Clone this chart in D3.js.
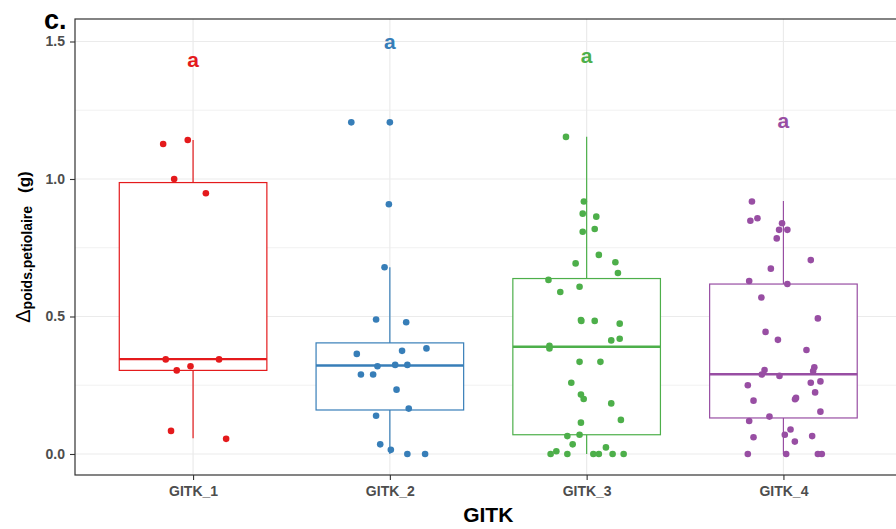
<!DOCTYPE html>
<html>
<head>
<meta charset="utf-8">
<script src="https://cdn.jsdelivr.net/npm/d3@7"></script>
<style>
  html, body { margin: 0; padding: 0; background: #fff; }
  svg { display: block; font-family: "Liberation Sans", Arial, sans-serif; }
</style>
</head>
<body>
<svg id="chart" width="896" height="529"></svg>
<script>
// ---------- data ----------
const categories = ["GITK_1", "GITK_2", "GITK_3", "GITK_4"];
const colors = ["#E41A1C", "#377EB8", "#4DAF4A", "#984EA3"];
const yTicks = [0.0, 0.5, 1.0, 1.5];
const yMinorTicks = [0.25, 0.75, 1.25];

// box statistics
const boxLower   = [0.304, 0.160, 0.070, 0.131];
const boxMedian  = [0.345, 0.322, 0.390, 0.290];
const boxUpper   = [0.987, 0.404, 0.638, 0.618];
const whiskerLow = [0.057, 0.000, 0.000, 0.000];
const whiskerHigh= [1.142, 0.679, 1.154, 0.920];

// significance letters
const letters = ["a", "a", "a", "a"];
const letterY = [1.429, 1.493, 1.441, 1.205];

// jittered points: [value, jitter offset in category units]
const pointsG1 = [[1.127,-0.152],[1.142,-0.027],[1.000,-0.096],[0.948,0.065],[0.344,-0.139],
  [0.304,-0.083],[0.319,-0.013],[0.344,0.132],[0.084,-0.112],[0.055,0.168]];
const pointsG2 = [[1.206,-0.196],[1.206,0.000],[0.908,-0.005],[0.679,-0.027],[0.489,-0.070],
  [0.479,0.083],[0.364,-0.168],[0.375,0.062],[0.384,0.186],[0.319,-0.063],[0.324,0.027],
  [0.324,0.089],[0.289,-0.147],[0.289,-0.085],[0.234,0.034],[0.165,0.096],[0.139,-0.070],
  [0.035,-0.049],[0.015,0.005],[0.000,0.089],[0.000,0.179]];
const pointsG3 = [[1.153,-0.105],[0.918,-0.014],[0.874,-0.020],[0.863,0.049],[0.808,-0.020],
  [0.818,0.041],[0.724,0.062],[0.693,-0.056],[0.697,0.146],[0.658,0.159],[0.633,-0.194],
  [0.608,-0.036],[0.589,-0.134],[0.487,-0.029],[0.484,-0.027],[0.484,0.041],[0.474,0.168],
  [0.413,0.125],[0.419,0.168],[0.393,-0.189],[0.384,-0.189],[0.335,-0.036],[0.335,0.070],
  [0.259,-0.078],[0.216,-0.029],[0.200,-0.015],[0.184,0.125],[0.124,0.174],[0.114,-0.029],
  [0.065,-0.098],[0.070,-0.036],[0.035,-0.071],[0.024,0.098],[0.000,-0.183],[0.010,-0.154],
  [0.000,-0.098],[0.000,0.034],[0.000,0.062],[0.000,0.132],[0.000,0.188]];
const pointsG4 = [[0.918,-0.160],[0.848,-0.168],[0.857,-0.132],[0.839,-0.007],[0.815,-0.022],
  [0.815,0.020],[0.784,-0.034],[0.705,0.139],[0.674,-0.064],[0.629,-0.174],[0.618,0.020],
  [0.569,-0.112],[0.493,0.175],[0.444,-0.091],[0.415,-0.028],[0.378,0.117],[0.305,-0.096],
  [0.289,-0.110],[0.284,-0.020],[0.315,0.157],[0.302,0.151],[0.259,0.139],[0.264,0.188],
  [0.250,-0.181],[0.224,0.161],[0.194,-0.152],[0.204,0.064],[0.199,0.059],[0.154,0.188],
  [0.136,-0.071],[0.120,-0.174],[0.089,0.036],[0.070,0.007],[0.061,-0.152],[0.045,0.058],
  [0.065,0.146],[0.000,-0.181],[0.000,0.014],[0.000,0.175],[0.000,0.195]];
const allPoints = [pointsG1, pointsG2, pointsG3, pointsG4];

// ---------- layout ----------
const panel = { left: 75, right: 901.5, top: 19, bottom: 475 };
const svg = d3.select("#chart");

const x = d3.scaleLinear().domain([0.4, 4.6]).range([panel.left, panel.right]);
const y = d3.scaleLinear().domain([-0.0764, 1.5818]).range([panel.bottom, panel.top]);
const boxHalf = 0.375;

svg.append("defs").append("clipPath").attr("id", "pclip")
  .append("rect").attr("x", panel.left).attr("y", panel.top)
  .attr("width", panel.right - panel.left).attr("height", panel.bottom - panel.top);

const gPanel = svg.append("g").attr("clip-path", "url(#pclip)");

// grid
gPanel.selectAll(".gminor").data(yMinorTicks).join("line")
  .attr("x1", panel.left).attr("x2", panel.right)
  .attr("y1", d => y(d)).attr("y2", d => y(d))
  .attr("stroke", "#EBEBEB").attr("stroke-width", 0.7);
gPanel.selectAll(".gmajor").data(yTicks).join("line")
  .attr("x1", panel.left).attr("x2", panel.right)
  .attr("y1", d => y(d)).attr("y2", d => y(d))
  .attr("stroke", "#EBEBEB").attr("stroke-width", 1.2);
gPanel.selectAll(".gvert").data(categories).join("line")
  .attr("x1", (d, i) => x(i + 1)).attr("x2", (d, i) => x(i + 1))
  .attr("y1", panel.top).attr("y2", panel.bottom)
  .attr("stroke", "#EBEBEB").attr("stroke-width", 1.2);

// boxplots
categories.forEach((c, i) => {
  const g = gPanel.append("g");
  const cx = x(i + 1);
  g.append("line").attr("x1", cx).attr("x2", cx)
    .attr("y1", y(boxUpper[i])).attr("y2", y(whiskerHigh[i]))
    .attr("stroke", colors[i]).attr("stroke-width", 1.2);
  g.append("line").attr("x1", cx).attr("x2", cx)
    .attr("y1", y(boxLower[i])).attr("y2", y(whiskerLow[i]))
    .attr("stroke", colors[i]).attr("stroke-width", 1.2);
  g.append("rect")
    .attr("x", x(i + 1 - boxHalf)).attr("width", x(i + 1 + boxHalf) - x(i + 1 - boxHalf))
    .attr("y", y(boxUpper[i])).attr("height", y(boxLower[i]) - y(boxUpper[i]))
    .attr("fill", "#fff").attr("stroke", colors[i]).attr("stroke-width", 1.2);
  g.append("line")
    .attr("x1", x(i + 1 - boxHalf)).attr("x2", x(i + 1 + boxHalf))
    .attr("y1", y(boxMedian[i])).attr("y2", y(boxMedian[i]))
    .attr("stroke", colors[i]).attr("stroke-width", 2.4);
});

// points
allPoints.forEach((pts, i) => {
  gPanel.append("g").selectAll("circle").data(pts).join("circle")
    .attr("cx", d => x(i + 1 + d[1]))
    .attr("cy", d => y(d[0]))
    .attr("r", 3.3)
    .attr("fill", colors[i]);
});

// letters
gPanel.selectAll(".letter").data(letters).join("text")
  .attr("x", (d, i) => x(i + 1))
  .attr("y", (d, i) => y(letterY[i]))
  .attr("dy", "0.27em")
  .attr("text-anchor", "middle")
  .attr("font-size", 21).attr("font-weight", "bold")
  .attr("fill", (d, i) => colors[i])
  .text(d => d);

// panel border
svg.append("rect")
  .attr("x", panel.left).attr("y", panel.top)
  .attr("width", panel.right - panel.left).attr("height", panel.bottom - panel.top)
  .attr("fill", "none").attr("stroke", "#333333").attr("stroke-width", 1.2);

// axes
const yAxis = d3.axisLeft(y).tickValues(yTicks).tickFormat(d3.format(".1f"))
  .tickSize(5).tickPadding(5);
const gy = svg.append("g").attr("transform", `translate(${panel.left},0)`).call(yAxis);
gy.select(".domain").remove();
gy.selectAll(".tick line").attr("stroke", "#333333").attr("stroke-width", 1.1);
gy.selectAll(".tick text").attr("font-size", 14).attr("font-weight", "bold")
  .attr("fill", "#4D4D4D").attr("font-family", "Liberation Sans, Arial, sans-serif");

const xAxis = d3.axisBottom(x).tickValues([1, 2, 3, 4])
  .tickFormat(d => categories[d - 1]).tickSize(5).tickPadding(6);
const gx = svg.append("g").attr("transform", `translate(0,${panel.bottom})`).call(xAxis);
gx.select(".domain").remove();
gx.selectAll(".tick line").attr("stroke", "#333333").attr("stroke-width", 1.1);
gx.selectAll(".tick text").attr("font-size", 14).attr("font-weight", "bold")
  .attr("fill", "#4D4D4D").attr("font-family", "Liberation Sans, Arial, sans-serif");

// axis titles
svg.append("text")
  .attr("x", (panel.left + panel.right) / 2).attr("y", 522)
  .attr("text-anchor", "middle").attr("font-size", 21).attr("font-weight", "bold")
  .attr("fill", "#000").text("GITK");

const yt = svg.append("text")
  .attr("transform", `translate(30,${(panel.top + panel.bottom) / 2}) rotate(-90)`)
  .attr("text-anchor", "middle").attr("fill", "#000");
yt.append("tspan").attr("font-size", 20).attr("font-weight", "normal").text("Δ");
yt.append("tspan").attr("font-size", 14).attr("font-weight", "bold").attr("dy", 1.5).text("poids.petiolaire");
yt.append("tspan").attr("font-size", 17).attr("font-weight", "bold").attr("dy", -1.5).attr("dx", 13).text("(g)");

// panel tag
svg.append("text").attr("x", 44).attr("y", 29)
  .attr("font-size", 27).attr("font-weight", "bold").attr("fill", "#000").text("c.");
</script>
</body>
</html>
